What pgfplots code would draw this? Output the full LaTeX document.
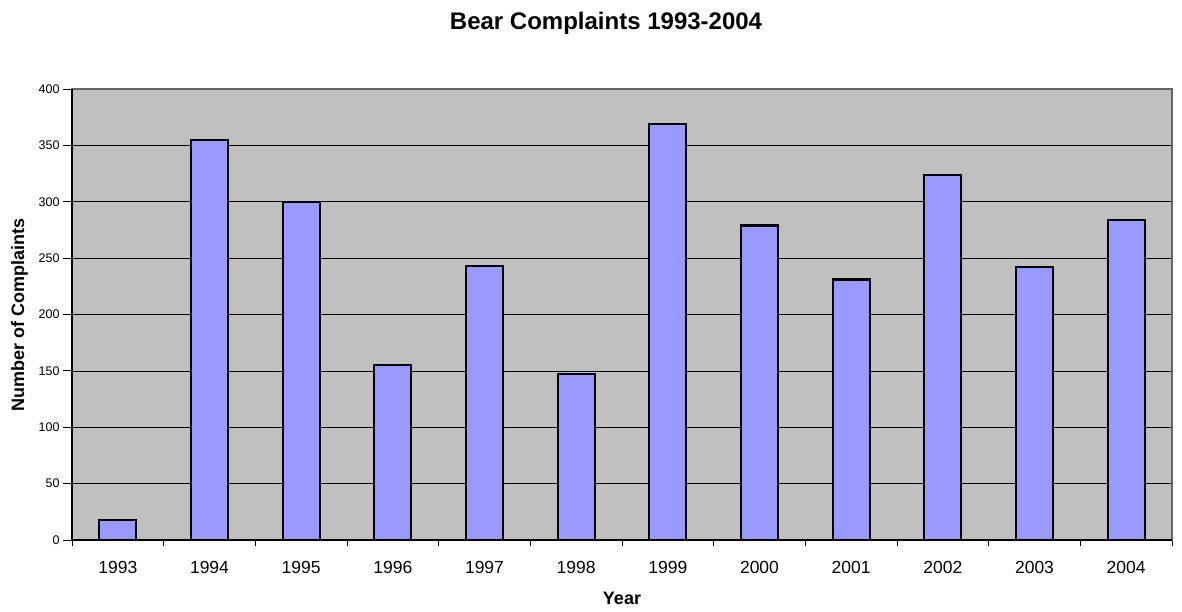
\documentclass[border=0pt]{standalone}
\usepackage{fontspec}
\setmainfont{Liberation Sans}
\usepackage{pgfplots}
\pgfplotsset{compat=1.18}
\definecolor{bgray}{HTML}{C0C0C0}
\definecolor{barblue}{HTML}{9999FF}
\begin{document}
\begin{tikzpicture}[x=1pt,y=1pt]
\path[use as bounding box] (0,0) rectangle (1182,611);
\begin{axis}[
  at={(72pt,71pt)}, anchor=south west,
  scale only axis, width=1100pt, height=451pt,
  xmin=-0.5, xmax=11.5, ymin=0, ymax=400,
  ytick={0,50,...,400},
  xtick={0,...,11},
  xticklabels={1993,1994,1995,1996,1997,1998,1999,2000,2001,2002,2003,2004},
  minor xtick={-0.5,0.5,...,11.5},
  major x tick style={draw=none},
  minor x tick style={black, line width=0.8pt},
  minor tick length=6pt,
  major tick length=9pt,
  y tick style={black, line width=0.8pt},
  tick align=outside,
  xtick pos=bottom, ytick pos=left,
  ymajorgrids,
  grid style={black, line width=0.7pt},
  axis background/.style={fill=bgray},
  axis line style={draw=gray!80!black, line width=1.2pt},
  /pgf/number format/assume math mode=true,
  y tick label style={font=\fontsize{12.5}{14}\selectfont, xshift=0pt},
  x tick label style={font=\fontsize{17.5}{20}\selectfont, yshift=-9pt},
  title={Bear Complaints 1993-2004},
  title style={font=\bfseries\fontsize{24}{27}\selectfont, at={(rel axis cs:0.4855,1.133)}, anchor=center},
  xlabel={Year},
  xlabel style={font=\bfseries\fontsize{18}{20}\selectfont, at={(rel axis cs:0.5,-0.13)}, anchor=center},
  ylabel={Number of Complaints},
  ylabel style={font=\bfseries\fontsize{18}{20}\selectfont, at={(rel axis cs:-0.0477,0.5)}, anchor=center, rotate=0},
  ybar, bar width=37pt, bar shift=0pt,
  clip=false,
]
\addplot[fill=barblue, draw=black, line width=2.3pt] coordinates {
(0,18) (1,355) (2,300) (3,155) (4,243) (5,147) (6,369) (7,279) (8,231) (9,324) (10,242) (11,284)};
\draw[black, line width=1.2pt] (rel axis cs:0,0) -- (rel axis cs:0,1);
\draw[black, line width=1.2pt] (rel axis cs:0,0) -- (rel axis cs:1,0);
\end{axis}
\end{tikzpicture}
\end{document}
